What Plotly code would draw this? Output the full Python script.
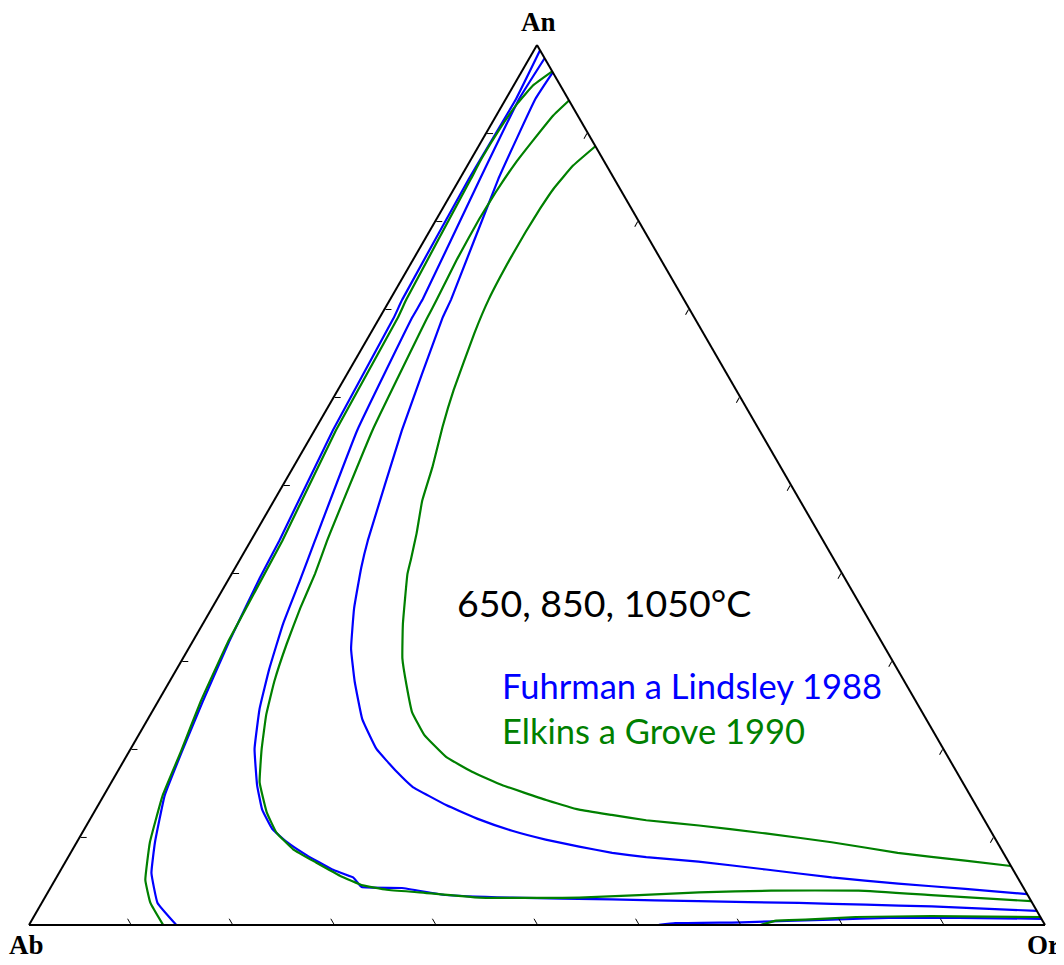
import plotly.graph_objects as go

# Ternary feldspar solvus curves, components: An (top), Ab (left), Or (right)
# values are mole fractions (An, Or); Ab = 1 - An - Or

# Fuhrman & Lindsley 1988
fl650_an = [0.994, 0.939, 0.848, 0.711, 0.690, 0.562, 0.437, 0.394, 0.322, 0.254, 0.197, 0.147, 0.094, 0.059, 0.025, 0.0]
fl650_or = [0.006, 0.010, 0.009, 0.012, 0.014, 0.018, 0.028, 0.030, 0.036, 0.044, 0.052, 0.060, 0.077, 0.091, 0.114, 0.145]
fl650k_an = [0.0, 0.002, 0.003, 0.006, 0.008, 0.008, 0.007]
fl650k_or = [0.620, 0.635, 0.700, 0.787, 0.842, 0.911, 0.993]

fl850_an = [0.985, 0.939, 0.848, 0.711, 0.690, 0.562, 0.437, 0.391, 0.342, 0.291, 0.246, 0.200, 0.159, 0.131,
            0.109, 0.094, 0.079, 0.063, 0.054, 0.043, 0.042, 0.034, 0.031, 0.029, 0.027, 0.025, 0.023, 0.021, 0.016]
fl850_or = [0.015, 0.013, 0.020, 0.032, 0.032, 0.042, 0.063, 0.071, 0.079, 0.091, 0.104, 0.122, 0.145, 0.164,
            0.185, 0.207, 0.234, 0.267, 0.292, 0.306, 0.346, 0.393, 0.460, 0.559, 0.645, 0.745, 0.812, 0.878, 0.984]

fl1050_an = [0.969, 0.939, 0.848, 0.711, 0.690, 0.562, 0.437, 0.406, 0.360, 0.314, 0.277, 0.234, 0.200, 0.174,
             0.157, 0.136, 0.120, 0.107, 0.097, 0.089, 0.082, 0.077, 0.072, 0.063, 0.054, 0.047, 0.041, 0.035]
fl1050_or = [0.031, 0.029, 0.038, 0.060, 0.062, 0.086, 0.115, 0.124, 0.140, 0.160, 0.182, 0.211, 0.242, 0.275,
             0.299, 0.343, 0.383, 0.422, 0.460, 0.497, 0.533, 0.569, 0.623, 0.694, 0.763, 0.832, 0.901, 0.965]

# Elkins & Grove 1990
eg650_an = [0.970, 0.954, 0.934, 0.905, 0.871, 0.848, 0.711, 0.690, 0.562, 0.437, 0.322, 0.254, 0.197, 0.147, 0.094, 0.051, 0.025, 0.0]
eg650_or = [0.030, 0.019, 0.014, 0.011, 0.010, 0.011, 0.016, 0.018, 0.021, 0.031, 0.035, 0.042, 0.051, 0.058, 0.072, 0.089, 0.107, 0.132]
eg650k_an = [0.0, 0.005, 0.006, 0.009, 0.010, 0.009]
eg650k_or = [0.720, 0.733, 0.761, 0.809, 0.883, 0.991]

eg850_an = [0.937, 0.920, 0.890, 0.867, 0.833, 0.802, 0.757, 0.711, 0.690, 0.562, 0.437, 0.399, 0.360, 0.319, 0.277, 0.239, 0.200,
            0.162, 0.128, 0.105, 0.086, 0.071, 0.056, 0.045, 0.040, 0.037, 0.031, 0.031, 0.037, 0.039, 0.039, 0.034, 0.027]
eg850_or = [0.063, 0.056, 0.050, 0.046, 0.043, 0.042, 0.043, 0.046, 0.047, 0.057, 0.075, 0.082, 0.087, 0.094, 0.103, 0.114, 0.129,
            0.146, 0.170, 0.191, 0.217, 0.247, 0.278, 0.306, 0.332, 0.366, 0.428, 0.526, 0.641, 0.711, 0.797, 0.871, 0.973]

eg1050_an = [0.885, 0.863, 0.837, 0.814, 0.787, 0.757, 0.711, 0.673, 0.608, 0.566, 0.520, 0.482, 0.445, 0.416, 0.399, 0.342, 0.303,
             0.273, 0.242, 0.216, 0.191, 0.174, 0.159, 0.142, 0.131, 0.125, 0.119, 0.113, 0.104, 0.094, 0.082, 0.073, 0.067]
eg1050_or = [0.115, 0.104, 0.098, 0.096, 0.095, 0.095, 0.097, 0.102, 0.114, 0.124, 0.137, 0.146, 0.159, 0.168, 0.173, 0.197, 0.216,
             0.235, 0.256, 0.281, 0.315, 0.349, 0.386, 0.438, 0.476, 0.511, 0.548, 0.603, 0.673, 0.743, 0.814, 0.885, 0.933]

BLUE = "#0000FF"
GREEN = "#008000"

series = [
    (fl650_an, fl650_or, BLUE), (fl650k_an, fl650k_or, BLUE),
    (fl850_an, fl850_or, BLUE), (fl1050_an, fl1050_or, BLUE),
    (eg650_an, eg650_or, GREEN), (eg650k_an, eg650k_or, GREEN),
    (eg850_an, eg850_or, GREEN), (eg1050_an, eg1050_or, GREEN),
]

fig = go.Figure()
for an, orr, col in series:
    fig.add_trace(go.Scatterternary(
        a=an, c=orr, mode="lines",
        line=dict(color=col, width=2.2, shape="spline", smoothing=0.3),
        showlegend=False, hoverinfo="skip",
    ))

axis_style = dict(
    title=dict(text=""), showgrid=False, showticklabels=False,
    ticks="inside", ticklen=6, tickwidth=1, tickcolor="black", dtick=0.1,
    linecolor="black", linewidth=2, min=0,
)

# the page body adds an 8px offset, so margins are shifted to compensate
fig.update_layout(
    width=1064, height=965, autosize=False,
    margin=dict(l=21, r=27, t=37, b=48, autoexpand=False),
    paper_bgcolor="white", plot_bgcolor="white",
    showlegend=False,
    ternary=dict(
        sum=1, bgcolor="white",
        domain=dict(x=[0, 1], y=[0, 1]),
        aaxis=axis_style, baxis=axis_style, caxis=axis_style,
    ),
)

serif = dict(family="Liberation Serif", size=27, color="black")
sans = "Lato"
annotations = [
    dict(text="<b>An</b>", x=0.501, y=1.026, font=serif, xanchor="center", yanchor="middle"),
    dict(text="<b>Ab</b>", x=-0.002, y=-0.041, font=serif, xanchor="center", yanchor="bottom", borderpad=0),
    dict(text="<b>Or</b>", x=0.999, y=-0.041, font=serif, xanchor="center", yanchor="bottom", borderpad=0),
    dict(text="650, 850, 1050°C", x=0.4193, y=0.367, font=dict(family=sans, size=37.5, color="black"),
         xanchor="left", yanchor="middle"),
    dict(text="Fuhrman a Lindsley 1988", x=0.4636, y=0.2716, font=dict(family=sans, size=34.5, color=BLUE),
         xanchor="left", yanchor="middle"),
    dict(text="Elkins a Grove 1990", x=0.4636, y=0.2205, font=dict(family=sans, size=34.5, color=GREEN),
         xanchor="left", yanchor="middle"),
]
for a in annotations:
    a.update(xref="paper", yref="paper", showarrow=False)
fig.update_layout(annotations=annotations)

fig.write_html("out.html")
